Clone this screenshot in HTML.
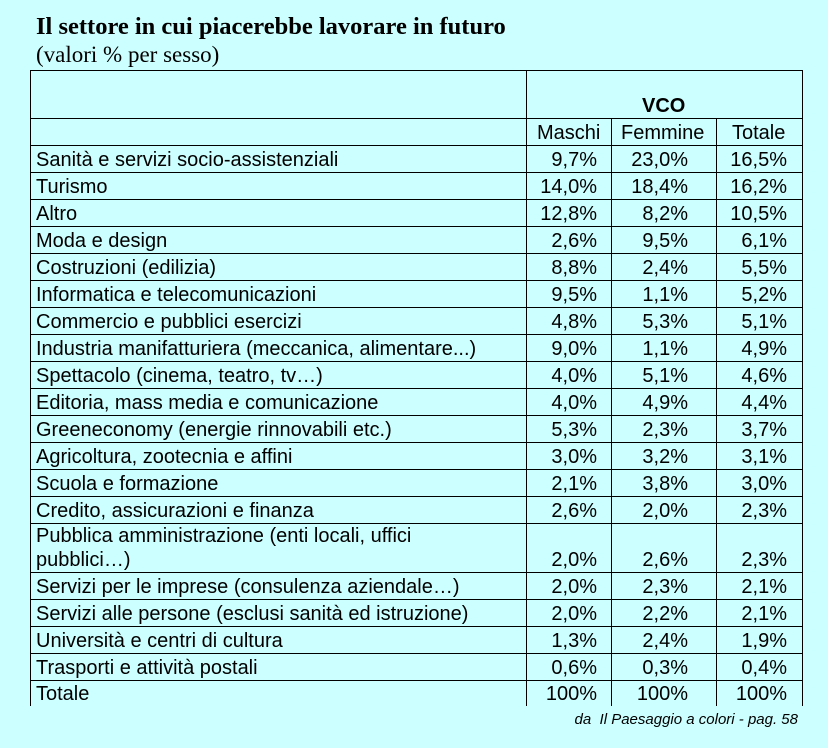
<!DOCTYPE html>
<html><head><meta charset="utf-8"><style>
body{margin:0;width:828px;height:748px;background:#ccffff;position:relative;overflow:hidden;font-family:"Liberation Sans",Arial,sans-serif;color:#000}
.t{position:absolute;left:36px;top:13px;font:bold 24.5px "Liberation Serif",serif}
.s{position:absolute;left:36px;top:42px;font:23px "Liberation Serif",serif}
.h{position:absolute;background:#000;height:1px}
.v{position:absolute;background:#000;width:1px}
.c{position:absolute;font-size:20px;line-height:22px;white-space:nowrap;transform-origin:0 0}
.n{position:absolute;font-size:20px;line-height:22px;text-align:right;white-space:nowrap}
.f{position:absolute;right:30px;top:711px;font-style:italic;font-size:15px}
</style></head><body>
<div class="t">Il settore in cui piacerebbe lavorare in futuro</div>
<div class="s">(valori % per sesso)</div>
<div class="h" style="left:30px;width:773px;top:70px"></div>
<div class="h" style="left:30px;width:773px;top:118px"></div>
<div class="h" style="left:30px;width:773px;top:145px"></div>
<div class="v" style="left:30px;top:70px;height:636px"></div>
<div class="v" style="left:526px;top:70px;height:636px"></div>
<div class="v" style="left:611px;top:118px;height:588px"></div>
<div class="v" style="left:716px;top:118px;height:588px"></div>
<div class="v" style="left:802px;top:70px;height:636px"></div>
<div class="c" style="left:642px;top:95px;font-weight:bold">VCO</div>
<div class="c" style="left:537px;top:122px">Maschi</div>
<div class="c" style="left:621px;top:122px">Femmine</div>
<div class="c" style="left:732px;top:122px">Totale</div>
<div class="c" style="left:36px;top:149px">Sanità e servizi socio-assistenziali</div><div class="n" style="right:231px;top:149px">9,7%</div><div class="n" style="right:140px;top:149px">23,0%</div><div class="n" style="right:41px;top:149px">16,5%</div><div class="h" style="left:30px;width:773px;top:172px"></div>
<div class="c" style="left:36px;top:176px">Turismo</div><div class="n" style="right:231px;top:176px">14,0%</div><div class="n" style="right:140px;top:176px">18,4%</div><div class="n" style="right:41px;top:176px">16,2%</div><div class="h" style="left:30px;width:773px;top:199px"></div>
<div class="c" style="left:36px;top:203px">Altro</div><div class="n" style="right:231px;top:203px">12,8%</div><div class="n" style="right:140px;top:203px">8,2%</div><div class="n" style="right:41px;top:203px">10,5%</div><div class="h" style="left:30px;width:773px;top:226px"></div>
<div class="c" style="left:36px;top:230px">Moda e design</div><div class="n" style="right:231px;top:230px">2,6%</div><div class="n" style="right:140px;top:230px">9,5%</div><div class="n" style="right:41px;top:230px">6,1%</div><div class="h" style="left:30px;width:773px;top:253px"></div>
<div class="c" style="left:36px;top:257px">Costruzioni (edilizia)</div><div class="n" style="right:231px;top:257px">8,8%</div><div class="n" style="right:140px;top:257px">2,4%</div><div class="n" style="right:41px;top:257px">5,5%</div><div class="h" style="left:30px;width:773px;top:280px"></div>
<div class="c" style="left:36px;top:284px">Informatica e telecomunicazioni</div><div class="n" style="right:231px;top:284px">9,5%</div><div class="n" style="right:140px;top:284px">1,1%</div><div class="n" style="right:41px;top:284px">5,2%</div><div class="h" style="left:30px;width:773px;top:307px"></div>
<div class="c" style="left:36px;top:311px">Commercio e pubblici esercizi</div><div class="n" style="right:231px;top:311px">4,8%</div><div class="n" style="right:140px;top:311px">5,3%</div><div class="n" style="right:41px;top:311px">5,1%</div><div class="h" style="left:30px;width:773px;top:334px"></div>
<div class="c" style="left:36px;top:338px">Industria manifatturiera (meccanica, alimentare...)</div><div class="n" style="right:231px;top:338px">9,0%</div><div class="n" style="right:140px;top:338px">1,1%</div><div class="n" style="right:41px;top:338px">4,9%</div><div class="h" style="left:30px;width:773px;top:361px"></div>
<div class="c" style="left:36px;top:365px">Spettacolo (cinema, teatro, tv…)</div><div class="n" style="right:231px;top:365px">4,0%</div><div class="n" style="right:140px;top:365px">5,1%</div><div class="n" style="right:41px;top:365px">4,6%</div><div class="h" style="left:30px;width:773px;top:388px"></div>
<div class="c" style="left:36px;top:392px">Editoria, mass media e comunicazione</div><div class="n" style="right:231px;top:392px">4,0%</div><div class="n" style="right:140px;top:392px">4,9%</div><div class="n" style="right:41px;top:392px">4,4%</div><div class="h" style="left:30px;width:773px;top:415px"></div>
<div class="c" style="left:36px;top:419px">Greeneconomy (energie rinnovabili etc.)</div><div class="n" style="right:231px;top:419px">5,3%</div><div class="n" style="right:140px;top:419px">2,3%</div><div class="n" style="right:41px;top:419px">3,7%</div><div class="h" style="left:30px;width:773px;top:442px"></div>
<div class="c" style="left:36px;top:446px">Agricoltura, zootecnia e affini</div><div class="n" style="right:231px;top:446px">3,0%</div><div class="n" style="right:140px;top:446px">3,2%</div><div class="n" style="right:41px;top:446px">3,1%</div><div class="h" style="left:30px;width:773px;top:469px"></div>
<div class="c" style="left:36px;top:473px">Scuola e formazione</div><div class="n" style="right:231px;top:473px">2,1%</div><div class="n" style="right:140px;top:473px">3,8%</div><div class="n" style="right:41px;top:473px">3,0%</div><div class="h" style="left:30px;width:773px;top:496px"></div>
<div class="c" style="left:36px;top:500px">Credito, assicurazioni e finanza</div><div class="n" style="right:231px;top:500px">2,6%</div><div class="n" style="right:140px;top:500px">2,0%</div><div class="n" style="right:41px;top:500px">2,3%</div><div class="h" style="left:30px;width:773px;top:523px"></div>
<div class="c" style="left:36px;top:525px">Pubblica amministrazione (enti locali, uffici</div>
<div class="c" style="left:36px;top:549px">pubblici…)</div><div class="n" style="right:231px;top:549px">2,0%</div><div class="n" style="right:140px;top:549px">2,6%</div><div class="n" style="right:41px;top:549px">2,3%</div><div class="h" style="left:30px;width:773px;top:572px"></div>
<div class="c" style="left:36px;top:576px">Servizi per le imprese (consulenza aziendale…)</div><div class="n" style="right:231px;top:576px">2,0%</div><div class="n" style="right:140px;top:576px">2,3%</div><div class="n" style="right:41px;top:576px">2,1%</div><div class="h" style="left:30px;width:773px;top:599px"></div>
<div class="c" style="left:36px;top:603px">Servizi alle persone (esclusi sanità ed istruzione)</div><div class="n" style="right:231px;top:603px">2,0%</div><div class="n" style="right:140px;top:603px">2,2%</div><div class="n" style="right:41px;top:603px">2,1%</div><div class="h" style="left:30px;width:773px;top:626px"></div>
<div class="c" style="left:36px;top:630px">Università e centri di cultura</div><div class="n" style="right:231px;top:630px">1,3%</div><div class="n" style="right:140px;top:630px">2,4%</div><div class="n" style="right:41px;top:630px">1,9%</div><div class="h" style="left:30px;width:773px;top:653px"></div>
<div class="c" style="left:36px;top:657px">Trasporti e attività postali</div><div class="n" style="right:231px;top:657px">0,6%</div><div class="n" style="right:140px;top:657px">0,3%</div><div class="n" style="right:41px;top:657px">0,4%</div><div class="h" style="left:30px;width:773px;top:680px"></div>
<div class="c" style="left:36px;top:683px">Totale</div><div class="n" style="right:231px;top:683px">100%</div><div class="n" style="right:140px;top:683px">100%</div><div class="n" style="right:41px;top:683px">100%</div>
<div class="f">da&nbsp; Il Paesaggio a colori - pag. 58</div>
</body></html>
